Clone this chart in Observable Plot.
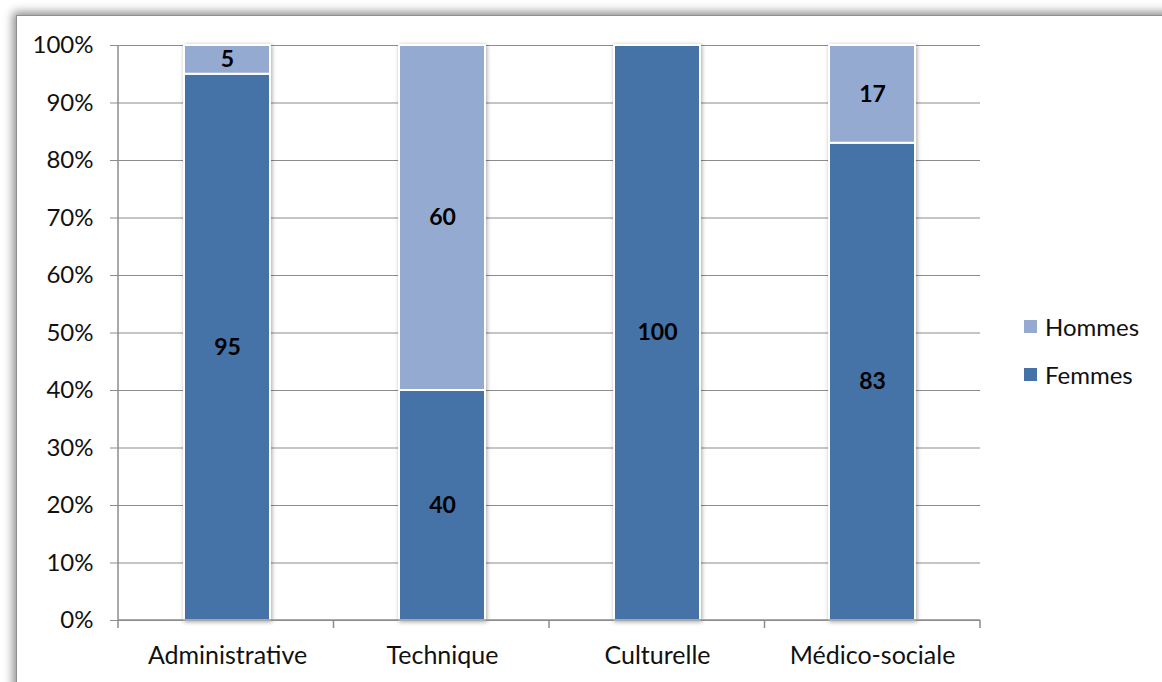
<!DOCTYPE html>
<html><head><meta charset="utf-8">
<script src="https://cdn.jsdelivr.net/npm/d3@7"></script>
<script src="https://cdn.jsdelivr.net/npm/@observablehq/plot@0.6"></script>
<style>
html,body{margin:0;padding:0;background:#fff;width:1162px;height:682px;overflow:hidden;font-family:Lato,"Open Sans",sans-serif;}
#frame{position:absolute;left:16px;top:15px;width:1200px;height:720px;border:1.5px solid #8f8f8f;box-shadow:-3px -3px 9px rgba(0,0,0,0.45);background:#fff;}
#chart{position:absolute;left:0;top:0;}
.legend{position:absolute;left:1024px;font-size:24px;color:#111;display:flex;align-items:center;}
.legend span.sw{display:inline-block;width:13px;height:13px;margin-right:8px;}
</style></head>
<body>
<div id="frame"></div>
<div id="chart"></div>
<div class="legend" style="top:312px"><span class="sw" style="background:#95AAD1"></span>Hommes</div>
<div class="legend" style="top:360px"><span class="sw" style="background:#4572A7"></span>Femmes</div>
<script>
const categories = ["Administrative", "Technique", "Culturelle", "Médico-sociale"];
const femmes = [95, 40, 100, 83];
const hommes = [5, 60, 0, 17];
const seriesNames = ["Femmes", "Hommes"];
const seriesColors = ["#4572A7", "#95AAD1"];
const yTicks = [0,10,20,30,40,50,60,70,80,90,100];

const data = [];
categories.forEach((c,i) => {
  data.push({cat:c, series:"Femmes", value:femmes[i]});
  data.push({cat:c, series:"Hommes", value:hommes[i]});
});

const plot = Plot.plot({
  width:1162, height:682,
  marginLeft:118, marginRight:182, marginTop:45, marginBottom:62,
  style:{fontFamily:"Lato, 'Open Sans', sans-serif", background:"transparent", color:"#111"},
  x:{domain:categories, paddingInner:0.6, paddingOuter:0.3, label:null},
  y:{domain:[0,100], label:null},
  color:{domain:seriesNames, range:seriesColors},
  marks:[
    Plot.gridY(yTicks, {stroke:"#8c8c8c", strokeOpacity:1, strokeWidth:1.2}),
    Plot.axisY(yTicks, {tickFormat:d=>d+"%", tickSize:8, tickPadding:17, fontSize:24, stroke:"#8c8c8c"}),
    Plot.axisX({tickSize:0, tickPadding:26, fontSize:25}),
    Plot.barY(data, {x:"cat", y:"value", fill:"series", z:"series", stroke:"white", strokeWidth:2}),
    Plot.text(data, Plot.stackY({x:"cat", y:"value", z:"series", text:"value", filter:d=>d.value>0, fontSize:23, fontWeight:"bold", fill:"#000"}))
  ]
});
document.getElementById("chart").appendChild(plot);

// axis lines and category boundary ticks, from the scales
const xs = plot.scale("x"), ys = plot.scale("y");
const x0 = xs.range[0], x1 = xs.range[1];
const yb = ys.apply(0), yt = ys.apply(100);
const svg = d3.select(plot);
svg.selectAll('g[aria-label="bar"]').style("filter","drop-shadow(1px 1px 2px rgba(0,0,0,0.35))");
const g = svg.append("g").attr("stroke","#8c8c8c").attr("stroke-width",1.5);
g.append("line").attr("x1",x0).attr("x2",x0).attr("y1",yt).attr("y2",yb);
g.append("line").attr("x1",x0).attr("x2",x1).attr("y1",yb).attr("y2",yb);
const n = categories.length;
for (let i=0;i<=n;i++){
  const xx = x0 + i*(x1-x0)/n;
  g.append("line").attr("x1",xx).attr("x2",xx).attr("y1",yb).attr("y2",yb+8);
}
</script>
</body></html>
